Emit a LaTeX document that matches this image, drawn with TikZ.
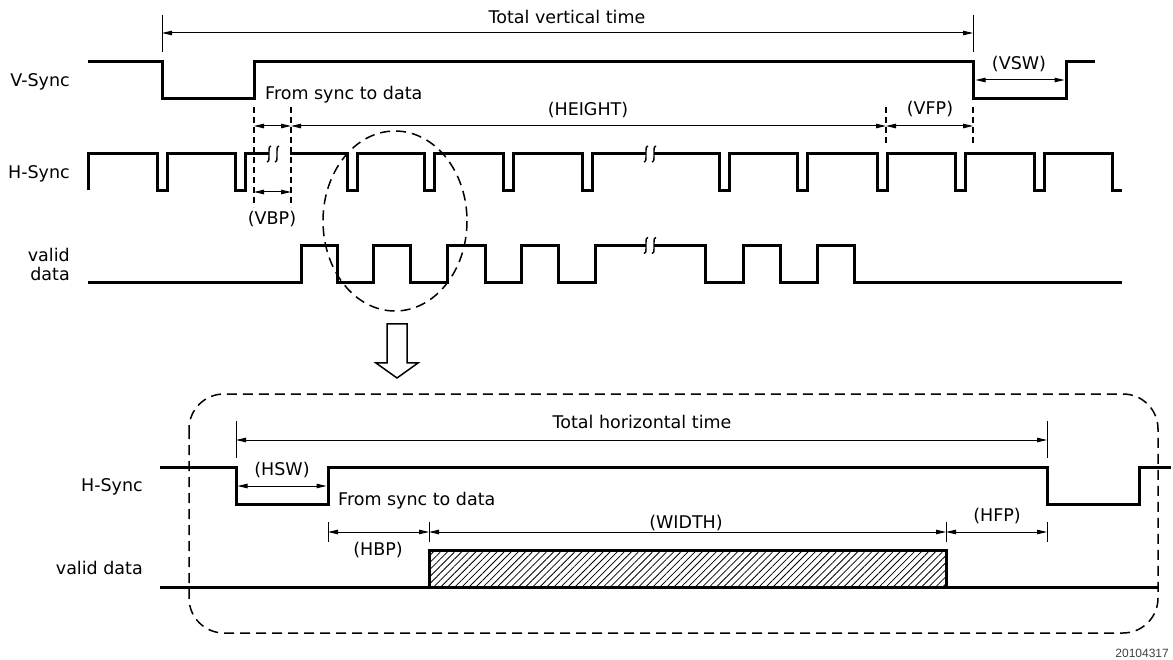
\documentclass[tikz,border=0pt]{standalone}
\usepackage{fontspec}
\setmainfont{DejaVu Sans}
\newfontfamily\fignofont{Liberation Sans}
\usetikzlibrary{arrows.meta,patterns.meta}

\tikzset{
  >={Triangle[length=10pt,width=4.5pt]},
  sig/.style={line width=3pt, line join=miter},
  dim/.style={line width=1pt, <->},
  tickline/.style={line width=1pt},
  guide/.style={line width=1.2pt, dash pattern=on 6pt off 4pt},
  zoomline/.style={line width=1.5pt, dash pattern=on 10pt off 6pt},
  lbl/.style={font=\fontsize{17.5}{19}\selectfont, inner sep=0pt, text height=12.5pt, text depth=0pt},
  brk/.pic={
    \draw[line width=1.4pt] (2,-8) .. controls (0,-8) and (0,-6) .. (0,-3) -- (0,3) .. controls (0,6) and (0,8) .. (-2,8);
    \draw[line width=1.4pt] (10,-8) .. controls (8,-8) and (8,-6) .. (8,-3) -- (8,3) .. controls (8,6) and (8,8) .. (6,8);
  }
}

\begin{document}
\begin{tikzpicture}[x=1pt,y=-1pt]

  \useasboundingbox (0,0) rectangle (1173,660);

  \newcommand\vsHi{61.5}
  \newcommand\vsLo{98.5}
  \newcommand\hsHi{154}
  \newcommand\hsLo{190.5}
  \newcommand\vdHi{245.5}
  \newcommand\vdLo{283}
  \newcommand\bhHi{467}
  \newcommand\bhLo{504}
  \newcommand\bdHi{550}
  \newcommand\bdLo{587}

  % signal names
  \node[lbl, anchor=east] (vsname) at (70,80) {V-Sync};
  \node[lbl, anchor=east] (hsname) at (70,172) {H-Sync};
  \node[lbl, anchor=east, align=right, text height={}, text depth={}] (vdname) at (70,264) {valid\\data};

  % V-Sync
  \draw[sig] (88,\vsHi) -- (162,\vsHi) -- (162,\vsLo) -- (254,\vsLo) -- (254,\vsHi)
    -- (973,\vsHi) -- (973,\vsLo) -- (1066,\vsLo) -- (1066,\vsHi) -- (1095,\vsHi);

  % H-Sync
  \draw[sig] (88,\hsLo) -- (88,\hsHi)
    \foreach \p in {157,235} { -- (\p,\hsHi) -- (\p,\hsLo) -- (\p+10,\hsLo) -- (\p+10,\hsHi) }
    -- (269,\hsHi);
  \pic at (269,\hsHi) {brk};
  \draw[sig] (290,\hsHi)
    \foreach \p in {347,424,503,582} { -- (\p,\hsHi) -- (\p,\hsLo) -- (\p+10,\hsLo) -- (\p+10,\hsHi) }
    -- (646,\hsHi);
  \pic at (646,\hsHi) {brk};
  \draw[sig] (654,\hsHi)
    \foreach \p in {719,797,877,955,1034} { -- (\p,\hsHi) -- (\p,\hsLo) -- (\p+10,\hsLo) -- (\p+10,\hsHi) }
    -- (1112,\hsHi) -- (1112,\hsLo) -- (1122,\hsLo);

  % valid data
  \draw[sig] (88,\vdLo)
    \foreach \a/\b in {301/337,373/410,447/485,521/558} { -- (\a,\vdLo) -- (\a,\vdHi) -- (\b,\vdHi) -- (\b,\vdLo) }
    -- (595,\vdLo) -- (595,\vdHi) -- (646,\vdHi);
  \pic at (646,\vdHi) {brk};
  \draw[sig] (654,\vdHi) -- (705,\vdHi) -- (705,\vdLo)
    \foreach \a/\b in {743/780,817/854} { -- (\a,\vdLo) -- (\a,\vdHi) -- (\b,\vdHi) -- (\b,\vdLo) }
    -- (1122,\vdLo);

  % total vertical time
  \coordinate (tvL) at (162,33);
  \coordinate (tvR) at (973,33);
  \draw[tickline] (162,15) -- (162,52);
  \draw[tickline] (973,15) -- (973,52);
  \draw[dim] (tvL) -- (tvR);
  \node[lbl] (tvtxt) at (567,17) {Total vertical time};

  % VSW
  \coordinate (vswL) at (975.5,80);
  \coordinate (vswR) at (1064.5,80);
  \draw[dim] (vswL) -- (vswR);
  \node[lbl] (vswtxt) at (1019,63) {(VSW)};

  % back porch, height, front porch
  \draw[guide] (254,107) -- (254,207);
  \draw[guide] (291,107) -- (291,207);
  \draw[guide] (886,107) -- (886,145);
  \draw[guide] (973,107) -- (973,145);
  \coordinate (vbpA) at (254,126);
  \coordinate (vbpB) at (291,126);
  \coordinate (vfpA) at (886,126);
  \coordinate (vfpB) at (973,126);
  \coordinate (vbpC) at (254,192);
  \coordinate (vbpD) at (291,192);
  \draw[dim] (vbpA) -- (vbpB);
  \draw[dim] (vbpB) -- (vfpA);
  \draw[dim] (vfpA) -- (vfpB);
  \draw[dim] (vbpC) -- (vbpD);
  \node[lbl, anchor=west] (vsdtxt) at (265,93) {From sync to data};
  \node[lbl] (hgttxt) at (588,109) {(HEIGHT)};
  \node[lbl] (vfptxt) at (930,108) {(VFP)};
  \node[lbl] (vbptxt) at (272,218) {(VBP)};

  % zoomed region
  \draw[zoomline] (395,221) ellipse (72 and 90);
  \draw[line width=1.5pt, fill=white] (387,324) -- (407,324) -- (407,363) -- (418,363)
    -- (397,378) -- (376,363) -- (387,363) -- cycle;
  \draw[zoomline, rounded corners=35pt] (189,394) rectangle (1158,633);

  % detail: one line
  \node[lbl, anchor=east] (bhname) at (143,485) {H-Sync};
  \node[lbl, anchor=east] (bdname) at (143,568) {valid data};

  \draw[sig] (160,\bhHi) -- (236,\bhHi) -- (236,\bhLo) -- (328,\bhLo) -- (328,\bhHi)
    -- (1047,\bhHi) -- (1047,\bhLo) -- (1139,\bhLo) -- (1139,\bhHi) -- (1171,\bhHi);
  \draw[sig] (160,\bdLo) -- (1159,\bdLo);
  \draw[sig, pattern={Lines[angle=45,distance=5pt,line width=0.8pt]}] (429,\bdHi) rectangle (946,\bdLo);

  % total horizontal time
  \coordinate (thL) at (236,440);
  \coordinate (thR) at (1047,440);
  \draw[tickline] (236,421) -- (236,458);
  \draw[tickline] (1047,421) -- (1047,458);
  \draw[dim] (thL) -- (thR);
  \node[lbl] (thtxt) at (642,422) {Total horizontal time};

  % HSW
  \coordinate (hswL) at (237.5,486);
  \coordinate (hswR) at (326.5,486);
  \draw[dim] (hswL) -- (hswR);
  \node[lbl] (hswtxt) at (282,469) {(HSW)};
  \node[lbl, anchor=west] (hsdtxt) at (338,499) {From sync to data};

  % HBP, width, HFP
  \coordinate (hbpA) at (328,532);
  \coordinate (hbpB) at (429,532);
  \coordinate (hfpA) at (946,532);
  \coordinate (hfpB) at (1047,532);
  \foreach \t in {328,429,946,1047} { \draw[tickline] (\t,522) -- (\t,542); }
  \draw[dim] (hbpA) -- (hbpB);
  \draw[dim] (hbpB) -- (hfpA);
  \draw[dim] (hfpA) -- (hfpB);
  \node[lbl] (hbptxt) at (378,549) {(HBP)};
  \node[lbl] (wdtxt) at (686,522) {(WIDTH)};
  \node[lbl] (hfptxt) at (997,515) {(HFP)};

  \node[font=\fignofont\fontsize{12}{14}\selectfont, text=black!75, anchor=east, inner sep=0pt] (figno) at (1169,653) {20104317};

\end{tikzpicture}
\end{document}
